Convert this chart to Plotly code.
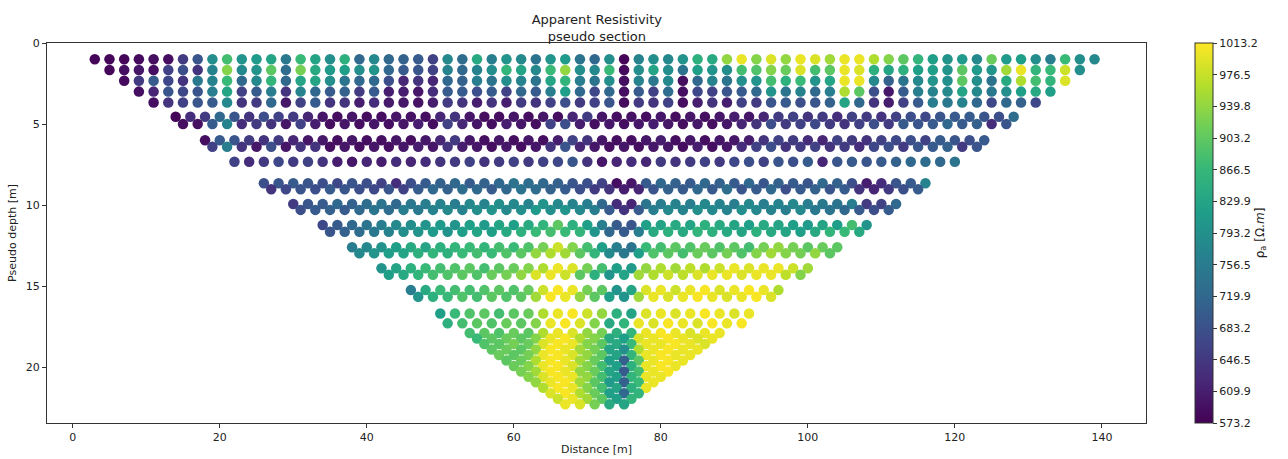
import plotly.graph_objects as go

# ---------------- data ----------------
# Rows with 2 m spacing: (start x, depth, values)
rowA_x0, rowA_y = 3, 1.0
rowA_vals = [580, 580, 580, 585, 590, 590, 650, 690, 790, 880, 800, 810, 830, 750, 870, 830, 790, 850, 720, 780,
             720, 710, 700, 660, 780, 730, 840, 760, 800, 780, 740, 800, 810, 740, 720, 790, 580, 770, 790, 780,
             800, 850, 840, 940, 1000, 930, 990, 940, 1000, 990, 950, 1000, 1000, 960, 930, 900, 860, 820, 800,
             810, 780, 910, 810, 820, 790, 760, 870, 790, 780]
rowB_x0, rowB_y = 5, 1.67
rowB_vals = [580, 590, 600, 590, 660, 680, 640, 770, 930, 780, 800, 900, 730, 920, 840, 810, 820, 790, 800,
             720, 700, 690, 660, 770, 720, 770, 790, 860, 830, 780, 870, 940, 790, 780, 870, 585, 790, 830, 790,
             740, 820, 800, 790, 880, 890, 930, 910, 990, 880, 900, 1000, 990, 850, 830, 850, 820, 820, 800,
             900, 810, 800, 950, 1000, 860, 870, 980, 790]
rowC_x0, rowC_y = 7, 2.33
rowC_vals = [585, 650, 700, 670, 640, 750, 770, 870, 720, 780, 860, 720, 830, 830, 790, 740, 720, 720,
             680, 620, 640, 620, 720, 710, 760, 740, 790, 770, 740, 830, 860, 760, 740, 790, 590, 770, 750, 780,
             590, 720, 770, 740, 790, 800, 880, 850, 870, 800, 830, 1000, 1000, 780, 710, 740, 780, 800, 790,
             900, 790, 740, 840, 960, 880, 860, 990]
rowD_x0, rowD_y = 9, 3.0
rowD_vals = [590, 620, 690, 670, 690, 760, 830, 660, 700, 760, 640, 770, 720, 700, 710, 650, 700,
             610, 610, 600, 630, 700, 700, 680, 700, 660, 720, 700, 760, 820, 720, 670, 720, 590, 700, 660, 730,
             590, 670, 660, 690, 700, 720, 800, 740, 770, 720, 760, 960, 900, 680, 600, 700, 760, 770, 780,
             830, 780, 750, 790, 820, 840, 820]
rowE_x0, rowE_y = 11, 3.67
rowE_vals = [590, 640, 660, 690, 700, 780, 640, 650, 720, 600, 660, 700, 640, 640, 610, 630,
             605, 600, 595, 610, 650, 640, 610, 640, 610, 650, 640, 660, 680, 650, 660, 690, 585, 650, 640, 660,
             590, 610, 640, 610, 660, 650, 690, 700, 680, 690, 710, 830, 720, 640, 610, 660, 700, 760, 750,
             770, 720, 670, 720, 710, 670]
rowH_x0, rowH_y = 22, 7.33
rowH_vals = [660, 630, 650, 670, 650, 660, 640, 610, 600, 620,
             610, 630, 620, 630, 640, 650, 660, 640, 650, 660, 650, 660, 670, 690, 640, 600, 620, 630, 620, 650,
             640, 650, 660, 650, 670, 680, 660, 690, 680, 700, 620, 690, 700, 690, 700, 710, 720, 730, 720, 740]

# Zig-zag rows: upper level (even x) and lower level (odd x)
rowF_x0, rowF_y_up, rowF_y_lo = 14, 4.55, 5.0
rowF_up = [580, 630, 650, 720, 690, 640, 680, 660, 650, 620, 600, 590, 600, 590,
           590, 600, 595, 590, 620, 640, 600, 590, 590, 600, 590, 600, 590, 620, 650, 600, 590, 595, 590, 600,
           590, 600, 590, 600, 610, 600, 620, 650, 660, 640, 650, 630, 660, 650, 640, 660, 680, 670, 690, 700,
           700, 690, 680, 730]
rowF_lo = [590, 590, 700, 770, 630, 650, 640, 600, 660, 610, 590, 600, 590,
           600, 590, 600, 610, 590, 660, 620, 600, 590, 610, 600, 590, 660, 680, 610, 590, 600, 590, 600, 610,
           600, 590, 600, 590, 600, 620, 640, 680, 650, 660, 670, 650, 640, 660, 680, 650, 700, 690, 700, 720,
           700, 710, 630, 690]
rowG_x0, rowG_y_up, rowG_y_lo = 18, 6.0, 6.4
rowG_up = [590, 700, 690, 650, 640, 650, 620, 600, 600, 590, 600, 590,
           590, 600, 590, 600, 620, 650, 600, 590, 600, 590, 600, 590, 610, 660, 640, 600, 590, 590, 600, 610,
           590, 600, 590, 600, 600, 610, 640, 660, 650, 630, 620, 660, 650, 640, 660, 670, 680, 660, 700, 690,
           680, 700]
rowG_lo = [660, 760, 640, 600, 680, 600, 640, 640, 590, 600, 590,
           600, 590, 600, 610, 600, 640, 610, 600, 590, 600, 590, 600, 640, 690, 620, 600, 590, 600, 590, 600,
           600, 590, 610, 590, 600, 630, 660, 680, 640, 650, 660, 640, 650, 630, 670, 680, 650, 690, 700, 710,
           650, 690]
rowI_x0, rowI_y_up, rowI_y_lo = 26, 8.66, 9.03
rowI_up = [680, 690, 700, 690, 680, 670, 690, 680, 660, 630, 680, 700, 710, 720, 700, 710, 720, 740, 730, 720,
           710, 690, 680, 660, 590, 600, 700, 720, 710, 700, 720, 710, 700, 720, 690, 710, 700, 690, 720, 710,
           680, 610, 630, 690, 700, 770]
rowI_lo = [640, 670, 690, 680, 700, 690, 680, 670, 690, 660, 700, 720, 710, 730, 720, 700, 720, 740, 730, 710,
           700, 680, 650, 640, 610, 620, 690, 710, 700, 720, 700, 730, 690, 700, 720, 680, 700, 710, 690, 700,
           640, 620, 650, 680, 700]
rowJ_x0, rowJ_y_up, rowJ_y_lo = 30, 9.94, 10.3
rowJ_up = [650, 690, 700, 720, 710, 730, 740, 720, 750, 760, 770, 760, 780, 770, 790, 780, 770, 800, 780, 770,
           760, 720, 630, 620, 740, 760, 770, 760, 780, 770, 760, 780, 760, 770, 780, 760, 750, 740, 760, 650,
           660, 720]
rowJ_lo = [680, 700, 710, 700, 720, 740, 730, 760, 750, 770, 780, 770, 790, 800, 780, 790, 810, 790, 800, 780,
           760, 700, 640, 700, 760, 780, 770, 790, 780, 770, 790, 780, 770, 760, 780, 750, 740, 720, 700, 680,
           700]
rowK_x0, rowK_y_up, rowK_y_lo = 34, 11.23, 11.65
rowK_up = [670, 700, 720, 740, 760, 780, 790, 800, 810, 800, 820, 810, 830, 820, 840, 860, 900, 850, 820, 760,
           700, 690, 820, 830, 840, 830, 850, 840, 830, 820, 840, 830, 820, 810, 830, 820, 880, 800]
rowK_lo = [690, 710, 730, 750, 770, 790, 800, 810, 800, 820, 830, 820, 840, 850, 870, 880, 870, 860, 800, 720,
           700, 760, 840, 850, 840, 860, 850, 840, 830, 850, 840, 830, 820, 840, 860, 870, 840]
rowL_x0, rowL_y_up, rowL_y_lo = 38, 12.6, 12.98
rowL_up = [760, 780, 800, 820, 840, 830, 850, 860, 870, 860, 880, 870, 890, 920, 980, 930, 880, 820, 760, 740,
           870, 880, 900, 890, 910, 890, 900, 880, 920, 940, 920, 900, 910, 900]
rowL_lo = [780, 800, 820, 830, 850, 860, 850, 870, 880, 870, 890, 900, 940, 960, 950, 900, 860, 780, 750, 820,
           890, 900, 880, 910, 900, 920, 890, 930, 950, 930, 920, 940, 900]
rowM_x0, rowM_y_up, rowM_y_lo = 42, 13.9, 14.3
rowM_up = [800, 830, 850, 870, 880, 890, 900, 880, 900, 910, 930, 960, 1000, 990, 920, 880, 820, 810, 940, 960,
           950, 970, 960, 980, 1000, 990, 1000, 1000, 980, 950]
rowM_lo = [820, 840, 860, 880, 890, 900, 890, 910, 920, 940, 990, 1000, 980, 900, 850, 800, 830, 950, 960, 980,
           970, 990, 1000, 1000, 990, 1000, 1000, 970, 930]
rowN_x0, rowN_y_up, rowN_y_lo = 46, 15.25, 15.66
rowN_up = [760, 840, 870, 880, 880, 890, 900, 890, 910, 980, 1010, 1000, 920, 900, 800, 830, 990, 1000, 980, 1000,
           1010, 990, 1000, 1010, 1000, 960]
rowN_lo = [800, 850, 870, 890, 880, 900, 890, 900, 950, 1010, 1000, 940, 900, 820, 800, 950, 1000, 990, 1000, 1010,
           1000, 990, 1000, 1010, 990]
rowO_x0, rowO_y_up, rowO_y_lo = 50, 16.69, 17.3
rowO_up = [820, 870, 890, 900, 880, 900, 910, 960, 1000, 1010, 980, 940, 850, 830, 990, 1000, 990, 1000, 1010, 1000,
           990, 1000]
rowO_lo = [850, 880, 900, 890, 910, 900, 930, 1000, 1010, 990, 930, 840, 860, 1000, 990, 1010, 1000, 990, 1010, 1000,
           1010]

# Deep triangle: each row starts 1 m further right, 2 m spacing
tri_x0 = [54, 55, 56, 57, 58, 59, 60, 61, 62, 63, 64, 65, 66, 67]
tri_y = [17.9, 18.24, 18.58, 18.91, 19.25, 19.59, 19.93, 20.27, 20.6, 20.94, 21.28, 21.62, 21.96, 22.3]
tri_vals = [
    [880, 900, 890, 910, 900, 960, 1000, 990, 940, 920, 850, 860, 1000, 1010, 1000, 990, 1000, 1000],
    [870, 900, 910, 900, 930, 1000, 1010, 960, 930, 840, 820, 990, 1000, 1010, 1000, 990, 1000],
    [890, 900, 920, 910, 990, 1010, 1000, 930, 900, 840, 870, 1000, 1000, 1010, 1000, 990],
    [900, 910, 900, 940, 1010, 1000, 950, 920, 830, 790, 960, 1000, 1010, 1000, 1000],
    [910, 900, 920, 1000, 1010, 990, 940, 900, 830, 860, 1000, 1010, 1000, 1000],
    [900, 910, 960, 1010, 1000, 950, 910, 820, 710, 900, 1000, 1010, 1000],
    [910, 930, 1000, 1010, 990, 930, 880, 820, 850, 1000, 1010, 1000],
    [920, 950, 1010, 1000, 940, 910, 830, 700, 880, 1000, 1010],
    [930, 990, 1010, 1000, 940, 880, 820, 860, 1000, 1000],
    [940, 1000, 1010, 950, 900, 810, 710, 870, 1000],
    [960, 1010, 1000, 930, 880, 830, 850, 1000],
    [990, 1010, 960, 910, 820, 720, 860],
    [980, 1000, 950, 900, 820, 860],
    [1000, 990, 920, 840, 830],
]

cb_ticks = [573.2, 609.9, 646.5, 683.2, 719.9, 756.5, 793.2, 829.9, 866.5, 903.2, 939.8, 976.5, 1013.2]
x_ticks = [0, 20, 40, 60, 80, 100, 120, 140]
y_ticks = [0, 5, 10, 15, 20]

# ---------------- assemble points ----------------
xs, ys, vs = [], [], []


def add_row(x0, y, vals, step=2):
    for i, v in enumerate(vals):
        xs.append(x0 + step * i)
        ys.append(y)
        vs.append(v)


for x0, y, vals in [(rowA_x0, rowA_y, rowA_vals), (rowB_x0, rowB_y, rowB_vals),
                    (rowC_x0, rowC_y, rowC_vals), (rowD_x0, rowD_y, rowD_vals),
                    (rowE_x0, rowE_y, rowE_vals)]:
    add_row(x0, y, vals)

for x0, yu, yl, up, lo in [(rowF_x0, rowF_y_up, rowF_y_lo, rowF_up, rowF_lo),
                           (rowG_x0, rowG_y_up, rowG_y_lo, rowG_up, rowG_lo)]:
    add_row(x0, yu, up)
    add_row(x0 + 1, yl, lo)

add_row(rowH_x0, rowH_y, rowH_vals)

for x0, yu, yl, up, lo in [(rowI_x0, rowI_y_up, rowI_y_lo, rowI_up, rowI_lo),
                           (rowJ_x0, rowJ_y_up, rowJ_y_lo, rowJ_up, rowJ_lo),
                           (rowK_x0, rowK_y_up, rowK_y_lo, rowK_up, rowK_lo),
                           (rowL_x0, rowL_y_up, rowL_y_lo, rowL_up, rowL_lo),
                           (rowM_x0, rowM_y_up, rowM_y_lo, rowM_up, rowM_lo),
                           (rowN_x0, rowN_y_up, rowN_y_lo, rowN_up, rowN_lo),
                           (rowO_x0, rowO_y_up, rowO_y_lo, rowO_up, rowO_lo)]:
    add_row(x0, yu, up)
    add_row(x0 + 1, yl, lo)

for x0, y, vals in zip(tri_x0, tri_y, tri_vals):
    add_row(x0, y, vals)

# ---------------- figure ----------------
FONT = "DejaVu Sans"
fig = go.Figure()
fig.add_trace(go.Scatter(
    x=xs, y=ys, mode="markers",
    marker=dict(
        size=10.5, color=vs, colorscale="Viridis", cmin=573.2, cmax=1013.2,
        line=dict(width=0),
        colorbar=dict(
            x=1.0446, xanchor="left", y=0.5, yanchor="middle", len=1.0, lenmode="fraction",
            xpad=0, ypad=0,
            thickness=18, outlinewidth=1, outlinecolor="#333",
            tickvals=cb_ticks, ticktext=[f"{t:.1f}" for t in cb_ticks],
            ticks="outside", ticklen=4, tickcolor="#333",
            tickfont=dict(family=FONT, size=11, color="#222"),
            title=dict(text="ρ<sub>a</sub> [Ω.<i>m</i>]", side="right",
                       font=dict(family=FONT, size=12, color="#222")),
        ),
    ),
    showlegend=False, hoverinfo="skip",
))

axis_common = dict(showline=True, linecolor="#333", linewidth=1, mirror=True,
                   ticks="outside", ticklen=4, tickcolor="#333", showgrid=False, zeroline=False,
                   tickfont=dict(family=FONT, size=11, color="#222"), automargin=False)

fig.update_layout(
    width=1288, height=459,
    margin=dict(l=47, r=142, t=43, b=36, autoexpand=False),
    paper_bgcolor="white", plot_bgcolor="white",
    title=dict(text="Apparent Resistivity<br>pseudo section", x=0.4634, xanchor="center",
               y=0.948, yanchor="middle", yref="container",
               font=dict(family=FONT, size=13, color="#222")),
    xaxis=dict(range=[-3.5, 146.0], tickvals=x_ticks,
               title=dict(text="Distance [m]", standoff=2, font=dict(family=FONT, size=11, color="#222")),
               **axis_common),
    yaxis=dict(range=[23.45, 0], tickvals=y_ticks,
               title=dict(text="Pseudo depth [m]", standoff=6, font=dict(family=FONT, size=11, color="#222")),
               **axis_common),
)

fig.write_html("out.html")
